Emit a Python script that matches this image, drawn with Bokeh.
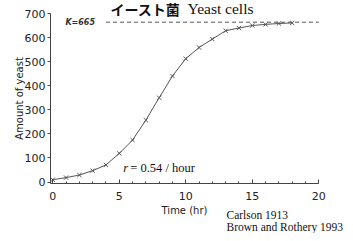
from bokeh.plotting import figure
from bokeh.models import Label, Range1d, FixedTicker, ColumnDataSource
from bokeh.embed import file_html
from bokeh.resources import INLINE

hours = list(range(19))
yeast = [9.6, 18.3, 29.0, 47.2, 71.1, 119.1, 174.6, 257.3, 350.7, 441.0,
         513.3, 559.7, 594.8, 629.4, 640.8, 651.1, 655.9, 659.6, 661.8]
K = 665
k_line_x = [4, 20]
x_ticks = [0, 5, 10, 15, 20]
y_ticks = [0, 100, 200, 300, 400, 500, 600, 700]

W, H = 345, 233
# frame covers the whole canvas; axes are pinned inside it so that the
# notes below the axis and the title are not clipped away
p = figure(width=W, height=H, output_backend="svg", toolbar_location=None,
           x_range=Range1d(-3.93, 22.01), y_range=Range1d(-214.3, 755.3),
           min_border=0)
p.outline_line_color = None
p.grid.visible = False
p.background_fill_color = "white"
p.border_fill_color = "white"

src = ColumnDataSource(dict(x=hours, y=yeast))
p.line("x", "y", source=src, line_color="#555555", line_width=1)
p.scatter("x", "y", source=src, marker="x", size=6, line_color="#555555", line_width=1)
p.line(k_line_x, [K, K], line_color="#555555", line_width=1, line_dash="4 3")

# axes
xa = p.xaxis[0]
xa.fixed_location = -6
xa.bounds = (-0.17, 20)
xa.ticker = FixedTicker(ticks=x_ticks, minor_ticks=list(range(21)))
xa.axis_label = "Time (hr)"
xa.axis_label_text_font = "DejaVu Sans"
xa.axis_label_text_font_size = "10px"
xa.axis_label_text_font_style = "normal"
xa.axis_label_text_color = "#222222"
xa.axis_label_standoff = 1
xa.major_label_text_font = "DejaVu Sans"
xa.major_label_text_font_size = "11px"
xa.major_label_text_color = "#222222"
xa.major_label_standoff = 9
xa.major_tick_in = 4
xa.major_tick_out = 0
xa.minor_tick_in = 2
xa.minor_tick_out = 0
xa.axis_line_color = "#444444"
xa.major_tick_line_color = "#444444"
xa.minor_tick_line_color = "#444444"

ya = p.yaxis[0]
ya.fixed_location = -0.17
ya.bounds = (-6, 700)
ya.ticker = FixedTicker(ticks=y_ticks)
ya.axis_label = "Amount of yeast"
ya.axis_label_text_font = "DejaVu Sans"
ya.axis_label_text_font_size = "10px"
ya.axis_label_text_font_style = "normal"
ya.axis_label_text_color = "#222222"
ya.axis_label_standoff = -3
ya.major_label_text_font = "DejaVu Sans"
ya.major_label_text_font_size = "11px"
ya.major_label_text_color = "#222222"
ya.major_label_standoff = 2
ya.major_tick_in = 0
ya.major_tick_out = 3
ya.minor_tick_in = 0
ya.minor_tick_out = 0
ya.axis_line_color = "#444444"
ya.major_tick_line_color = "#444444"

# annotations inside the plot
p.add_layout(Label(x=0.95, y=K, text="K=665", text_font="DejaVu Sans",
                   text_font_size="8px", text_font_style="bold italic",
                   text_color="#333333", text_baseline="middle"))
p.add_layout(Label(x=5.3, y=60, text="r", text_font="Liberation Serif",
                   text_font_size="12.5px", text_font_style="italic",
                   text_color="#111111", text_baseline="middle"))
p.add_layout(Label(x=5.3, y=60, x_offset=7, text=" = 0.54 / hour", text_font="Liberation Serif",
                   text_font_size="12.5px", text_color="#111111", text_baseline="middle"))

# source notes below the axis
p.add_layout(Label(x=13.06, y=-139, text="Carlson 1913",
                   text_font="Liberation Serif", text_font_size="11.5px",
                   text_color="#111111", text_baseline="middle"))
p.add_layout(Label(x=13.06, y=-189, text="Brown and Rothery 1993",
                   text_font="Liberation Serif", text_font_size="11.5px",
                   text_color="#111111", text_baseline="middle"))

# title
p.add_layout(Label(x=4.34, y=721, text="イースト菌",
                   text_font="Noto Sans CJK JP", text_font_size="14px",
                   text_font_style="bold", text_color="#111111",
                   text_baseline="alphabetic"))
p.add_layout(Label(x=10.13, y=721, text="Yeast cells",
                   text_font="Liberation Serif", text_font_size="15.5px",
                   text_color="#111111", text_baseline="alphabetic"))

open("out.html", "w").write(file_html(p, INLINE))
